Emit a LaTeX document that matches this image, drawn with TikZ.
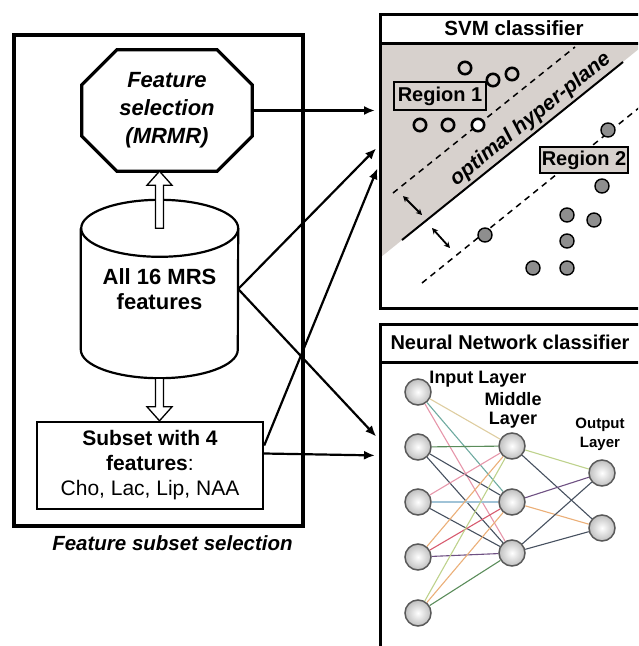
\documentclass[tikz,border=0pt]{standalone}
\usepackage{fontspec}
\setmainfont{Liberation Sans}
\usepackage{xcolor}
\usepackage{tikz}
\usetikzlibrary{arrows.meta,positioning,calc}

\definecolor{svmgray}{RGB}{215,209,205}
\definecolor{dotgray}{RGB}{142,142,142}
\definecolor{nnTan}{RGB}{222,205,160}
\definecolor{nnTeal}{RGB}{110,170,160}
\definecolor{nnPink}{RGB}{230,150,170}
\definecolor{nnGreen}{RGB}{90,140,90}
\definecolor{nnSlate}{RGB}{70,80,95}
\definecolor{nnBlue}{RGB}{160,195,215}
\definecolor{nnOrange}{RGB}{235,175,120}
\definecolor{nnRed}{RGB}{215,90,110}
\definecolor{nnPurple}{RGB}{110,80,130}
\definecolor{nnLime}{RGB}{190,210,140}

\begin{document}
\begin{tikzpicture}[x=1pt, y=1pt,
  boxtext/.style={font=\bfseries\fontsize{22}{25}\selectfont},
  flow/.style={line width=2.2pt, -{Latex[length=11pt,width=9pt]}, shorten >=4pt},
  hollow/.style={line width=1.3pt, fill=white},
  panel/.style={draw, line width=3pt, minimum width=269pt, inner sep=0, anchor=north west},
  regbox/.style={draw, fill=svmgray, line width=1.5pt, inner sep=0,
    font=\bfseries\fontsize{20}{22}\selectfont},
  neuron/.style={circle, draw=black!65, line width=1.5pt, minimum size=26pt,
    inner sep=0, inner color=white, outer color=gray!50},
  layer/.style={align=center, font=\bfseries\fontsize{18}{19}\selectfont}]
  \useasboundingbox (0,0) rectangle (638,-646);
  \clip (0,0) rectangle (638,-646);

  % feature subset selection
  \node[draw, line width=3.8pt, minimum width=289pt, minimum height=491pt] (fsel) at (158.5,-280.5) {};
  \node[anchor=north, font=\bfseries\itshape\fontsize{20.5}{22}\selectfont] (fcap)
    at ([xshift=14pt,yshift=-4pt]fsel.south) {Feature subset selection};
  \node[minimum width=170pt, minimum height=121pt, inner sep=0, align=center,
    font=\bfseries\itshape\fontsize{22}{28}\selectfont] (oct) at (167,-110.5) {Feature\\selection\\(MRMR)};
  \draw[line width=3.2pt] ([xshift=35pt]oct.north west) -- ([xshift=-35pt]oct.north east)
    -- ([yshift=-35pt]oct.north east) -- ([yshift=35pt]oct.south east)
    -- ([xshift=-35pt]oct.south east) -- ([xshift=35pt]oct.south west)
    -- ([yshift=35pt]oct.south west) -- ([yshift=-35pt]oct.north west) -- cycle;
  \node[minimum width=157pt, minimum height=178pt, inner sep=0, align=center, boxtext] (cyl)
    at (159.5,-289) {All 16 MRS\\features};
  \draw[line width=2.2pt] ([yshift=-28.5pt]cyl.north west) -- ([yshift=28.5pt]cyl.south west)
    arc[start angle=180, end angle=360, x radius=78.5pt, y radius=28.5pt]
    -- ([yshift=-28.5pt]cyl.north east)
    arc[start angle=0, end angle=180, x radius=78.5pt, y radius=28.5pt];
  \draw[line width=2.2pt] ([yshift=-28.5pt]cyl.north east)
    arc[start angle=0, end angle=-180, x radius=78.5pt, y radius=28.5pt];
  \node[draw, line width=2.4pt, minimum width=226pt, minimum height=87pt, inner sep=0, align=center,
    font=\fontsize{21}{25}\selectfont] (sub) at (150,-465.5)
    {\textbf{Subset with 4}\\\textbf{features}:\\Cho, Lac, Lip, NAA};

  % hollow arrows
  \draw[hollow] let \p1=([yshift=-28.5pt]cyl.north), \p2=(cyl.north |- oct.south) in
    ({\x1-4pt},\y1) -- ({\x1-4pt},{\y2-14pt}) -- ({\x1-12.5pt},{\y2-14pt}) -- (\x1,\y2)
    -- ({\x1+12.5pt},{\y2-14pt}) -- ({\x1+4pt},{\y2-14pt}) -- ({\x1+4pt},\y1) -- cycle;
  \draw[hollow] let \p1=(cyl.south), \p2=(cyl.south |- sub.north) in
    ({\x1-4pt},\y1) -- ({\x1-4pt},{\y2+14pt}) -- ({\x1-12.5pt},{\y2+14pt}) -- (\x1,\y2)
    -- ({\x1+12.5pt},{\y2+14pt}) -- ({\x1+4pt},{\y2+14pt}) -- ({\x1+4pt},\y1) -- cycle;

  % SVM classifier
  \fill[svmgray] (381,-44) -- (645,-44) -- (381,-257) -- cycle;
  \draw[line width=1.5pt, dash pattern=on 6pt off 5pt] (393,-193) -- (575,-47);
  \draw[line width=1.5pt, dash pattern=on 6pt off 5pt] (422,-283) -- (640,-107);
  \draw[line width=2pt] (402,-240) -- (623,-62)
    node[pos=0.62, sloped, above=2.5pt, inner sep=0, font=\bfseries\itshape\fontsize{21}{21}\selectfont]
    (hplane) {optimal hyper-plane};
  \draw[line width=1.8pt, {Stealth[length=6pt,width=6pt]}-{Stealth[length=6pt,width=6pt]}] (403,-196) -- (422,-215);
  \draw[line width=1.8pt, {Stealth[length=6pt,width=6pt]}-{Stealth[length=6pt,width=6pt]}] (432,-228) -- (450,-248);
  \foreach \x/\y in {465/68, 493/80, 512/74, 420/125, 448/125}
    \draw[line width=2.6pt, fill=svmgray] (\x,-\y) circle (6.2pt);
  \draw[line width=2.6pt, fill=white] (478,-125) circle (6.2pt);
  \foreach \x/\y in {608/130, 602/186, 567/215, 594/220, 567/241, 485/235, 533/268, 567/268}
    \draw[line width=1.4pt, fill=dotgray] (\x,-\y) circle (7pt);
  \node[regbox, minimum width=92pt, minimum height=28pt] (reg1) at (440,-96) {Region 1};
  \node[regbox, minimum width=88pt, minimum height=26pt] (reg2) at (584,-160) {Region 2};
  \node[panel, minimum height=294pt] (svm) at (379,-13) {};
  \draw[line width=3pt] ([yshift=-30pt]svm.north west) -- ([yshift=-30pt]svm.north east);
  \node[font=\bfseries\fontsize{20.5}{22}\selectfont] (svmtitle) at (514,-28) {SVM classifier};

  % neural network classifier
  \node[panel, minimum height=340pt] (nn) at (379,-323) {};
  \draw[line width=3pt] ([yshift=-39pt]nn.north west) -- ([yshift=-39pt]nn.north east);
  \node[font=\bfseries\fontsize{20}{22}\selectfont] (nntitle) at (510,-342) {Neural Network classifier};
  \foreach \i/\y in {1/392, 2/447, 3/502, 4/557, 5/613}
    \node[neuron] (in\i) at (418,-\y) {};
  \foreach \i/\y in {1/446, 2/502, 3/553}
    \node[neuron] (mid\i) at (512,-\y) {};
  \foreach \i/\y in {1/473, 2/528}
    \node[neuron] (out\i) at (602,-\y) {};
  \foreach \i/\j/\c in {1/1/nnTan, 1/2/nnTeal, 1/3/nnPink, 2/1/nnGreen, 2/2/nnSlate, 2/3/nnSlate,
      3/1/nnPink, 3/2/nnBlue, 3/3/nnSlate, 4/1/nnOrange, 4/2/nnRed, 4/3/nnPurple,
      5/1/nnLime, 5/2/nnOrange, 5/3/nnGreen}
    \draw[draw=\c, line width=1.1pt] (in\i) -- (mid\j);
  \foreach \i/\j/\c in {1/1/nnLime, 1/2/nnSlate, 2/1/nnPurple, 2/2/nnOrange, 3/1/nnSlate, 3/2/nnSlate}
    \draw[draw=\c, line width=1.1pt] (mid\i) -- (out\j);
  \node[layer] (inlbl) at (478,-379) {Input Layer};
  \node[layer] (midlbl) at (513,-410) {Middle\\Layer};
  \node[layer, font=\bfseries\fontsize{15}{19}\selectfont] (outlbl) at (600,-434) {Output\\Layer};

  % connectors
  \draw[flow] (oct.east) -- (oct.east -| svm.west);
  \draw[flow] (cyl.east) -- ([yshift=16pt]svm.west);
  \draw[flow] (cyl.east) -- ([yshift=55pt]nn.west);
  \draw[flow] ([yshift=20pt]sub.east) -- ([yshift=-3pt]svm.west);
  \draw[flow] ([yshift=12pt]sub.east) -- ([yshift=39pt]nn.west);
\end{tikzpicture}
\end{document}
